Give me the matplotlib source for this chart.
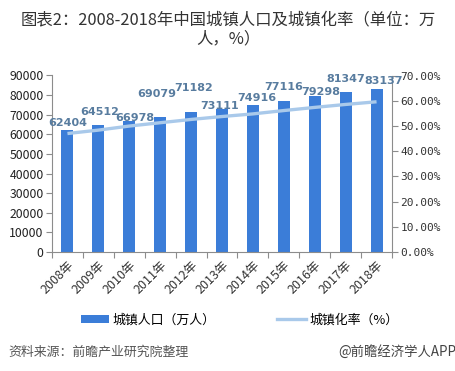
import matplotlib
matplotlib.use("Agg")
import matplotlib.pyplot as plt
from matplotlib.ticker import FuncFormatter, MultipleLocator, FixedLocator
from matplotlib.patches import Patch
from matplotlib.lines import Line2D

plt.rcParams['font.family'] = ['Noto Sans CJK SC', 'DejaVu Sans']

years = ["2008年", "2009年", "2010年", "2011年", "2012年", "2013年",
         "2014年", "2015年", "2016年", "2017年", "2018年"]
population = [62404, 64512, 66978, 69079, 71182, 73111, 74916, 77116, 79298, 81347, 83137]
urban_rate = [46.99, 48.34, 49.95, 51.27, 52.57, 53.73, 54.77, 56.10, 57.35, 58.52, 59.58]

# label placement tweaks (pixels) to mimic the reference
label_dx = [0.5, 1, 5.7, -3.7, 3, -2, 3.6, 0, 6.3, 0, 7.5]
label_dy = [6.3, 13.1, 2.3, 22.1, 24, 2.2, 6.7, 13.3, 4.1, 13, 7.5]

bar_color = "#3b7dd8"
line_color = "#a9c9ea"
label_color = "#587c9f"
axis_color = "#8c8c8c"

W, H = 456, 371
fig = plt.figure(figsize=(W / 100, H / 100), dpi=100)
ax = fig.add_axes([52 / W, 1 - 252 / H, 340 / W, 176.5 / H])
ax2 = ax.twinx()

x = list(range(len(years)))
ax.bar(x, population, width=0.39, color=bar_color, zorder=2)
ax.set_xlim(-0.5, len(years) - 0.5)
ax.set_ylim(0, 90000)
ax.yaxis.set_major_locator(MultipleLocator(10000))
ax.tick_params(axis='y', labelsize=8.8, colors=axis_color, labelcolor="#222222",
               length=4, width=0.8, pad=2)

ax2.plot(x, [v / 100 for v in urban_rate], color=line_color, lw=2.4,
         solid_capstyle='butt', zorder=3)
ax2.set_ylim(0, 0.70)
ax2.yaxis.set_major_locator(MultipleLocator(0.10))
ax2.yaxis.set_major_formatter(FuncFormatter(lambda v, p: f"{v * 100:.2f}%"))
ax2.tick_params(axis='y', labelsize=8, colors=axis_color, labelcolor="#333333",
                length=4, width=0.8, pad=2)
for lab in ax2.get_yticklabels():
    lab.set_family(['DejaVu Sans Mono'])

# x axis: ticks at category boundaries
ax.set_xticks(x)
ax.set_xticklabels(years, rotation=45, ha='right', va='top',
                   rotation_mode='anchor', fontsize=9, color="#333333")
ax.tick_params(axis='x', which='major', length=0, pad=5)
ax.xaxis.set_minor_locator(FixedLocator([i - 0.5 for i in range(len(years) + 1)]))
ax.tick_params(axis='x', which='minor', length=4, width=0.8, color=axis_color)

for a in (ax, ax2):
    a.spines['top'].set_visible(False)
    for s in ('left', 'right', 'bottom'):
        a.spines[s].set_color(axis_color)
        a.spines[s].set_linewidth(0.8)
ax.spines['right'].set_visible(False)
ax2.spines['left'].set_visible(False)
ax2.spines['bottom'].set_visible(False)

for i, v in enumerate(population):
    ax2.annotate(f"{v}", xy=(i, v), xycoords=ax.transData,
                 xytext=(label_dx[i] * 0.72, label_dy[i] * 0.72), textcoords='offset points',
                 ha='center', va='center', fontsize=8, fontweight='bold',
                 color=label_color, family=['DejaVu Sans'], zorder=5)

# title
fig.text(0.5, 1 - 20 / H, "图表2：2008-2018年中国城镇人口及城镇化率（单位：万",
         ha='center', va='center', fontsize=11.8, color="#333333")
fig.text(0.5, 1 - 39 / H, "人，%）", ha='center', va='center', fontsize=11.8, color="#333333")

# legend
handles = [Patch(facecolor=bar_color, edgecolor='none'),
           Line2D([0], [0], color=line_color, lw=2.4)]
leg = fig.legend(handles, ["城镇人口（万人）", "城镇化率（%）"], loc='center',
                 bbox_to_anchor=(0.525, 1 - 320 / H), ncol=2, frameon=False,
                 fontsize=9.3, handlelength=2.2, handleheight=0.55, columnspacing=4.8,
                 handletextpad=0.25)

# footer
fig.text(8 / W, 1 - 352 / H, "资料来源：前瞻产业研究院整理", ha='left', va='center',
         fontsize=9.3, color="#555555", style='italic')
fig.text(1.0, 1 - 352 / H, "@前瞻经济学人APP", ha='right', va='center',
         fontsize=9.6, color="#444444")

fig.savefig("out.png", dpi=100, facecolor='white')
